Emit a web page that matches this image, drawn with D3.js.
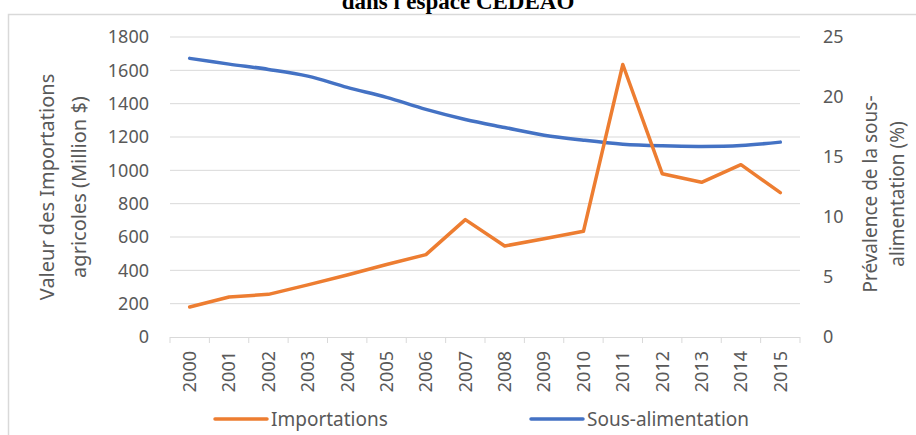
<!DOCTYPE html>
<html>
<head>
<meta charset="utf-8">
<script src="https://cdn.jsdelivr.net/npm/d3@7"></script>
<style>
  body { margin: 0; background: #fff; }
  text { font-family: "Noto Sans", sans-serif; fill: #595959; }
  .grid line { stroke: #d9d9d9; stroke-width: 1; }
</style>
</head>
<body>
<div id="chart"></div>
<script>
      var years = ["2000", "2001", "2002", "2003", "2004", "2005", "2006", "2007",
                   "2008", "2009", "2010", "2011", "2012", "2013", "2014", "2015"];
      var importations = [180, 240, 256, 313, 372, 435, 494, 704, 546, 590, 634, 1635, 980, 928, 1034, 866];
      var sousAlim = [23.22, 22.74, 22.3, 21.74, 20.8, 19.97, 18.97, 18.13,
                      17.46, 16.82, 16.4, 16.07, 15.93, 15.88, 15.96, 16.24];
      var leftTicks = [0, 200, 400, 600, 800, 1000, 1200, 1400, 1600, 1800];
      var rightTicks = [0, 5, 10, 15, 20, 25];

      var width = 916;
      var height = 435;
      var plot = { left: 170, right: 800, top: 37, bottom: 337 };

      var svg = d3.select('#chart').append('svg')
                  .attr('width', width)
                  .attr('height', height);

      // chart frame
      svg.append('rect')
         .attr('x', 8.5).attr('y', 14.5)
         .attr('width', width).attr('height', height)
         .attr('fill', 'none').attr('stroke', '#d9d9d9').attr('stroke-width', 1.5);

      // title (cut off at the top, as in the source)
      svg.append('text')
         .attr('x', 458).attr('y', 9)
         .attr('text-anchor', 'middle')
         .style('font-family', '"Liberation Serif", serif')
         .style('font-weight', 'bold')
         .style('font-size', '23px')
         .style('fill', '#000')
         .text("dans l'espace CEDEAO");

      var x = d3.scaleBand().domain(years).range([plot.left, plot.right]).padding(0);
      var yL = d3.scaleLinear().domain([0, 1800]).range([plot.bottom, plot.top]);
      var yR = d3.scaleLinear().domain([0, 25]).range([plot.bottom, plot.top]);

      // gridlines
      svg.append('g').attr('class', 'grid')
         .selectAll('line').data(leftTicks.slice(1)).enter().append('line')
         .attr('x1', plot.left).attr('x2', plot.right)
         .attr('y1', function(d){ return yL(d); })
         .attr('y2', function(d){ return yL(d); });

      // left axis labels
      var axisL = d3.axisLeft(yL).tickValues(leftTicks).tickFormat(d3.format('d'))
                    .tickSize(0).tickPadding(21);
      var gL = svg.append('g').attr('transform', 'translate(' + plot.left + ',0)').call(axisL);
      gL.select('.domain').remove();
      gL.selectAll('text').style('font-size', '18px');

      // right axis labels
      var axisR = d3.axisRight(yR).tickValues(rightTicks).tickSize(0).tickPadding(23);
      var gR = svg.append('g').attr('transform', 'translate(' + plot.right + ',0)').call(axisR);
      gR.select('.domain').remove();
      gR.selectAll('text').style('font-size', '18px');

      // x axis
      var xAxis = d3.axisBottom(x).tickSize(0);
      var gX = svg.append('g').attr('transform', 'translate(0,' + plot.bottom + ')').call(xAxis);
      gX.select('.domain').attr('stroke', '#d9d9d9')
        .attr('d', 'M' + plot.left + ',0.5H' + plot.right);
      gX.selectAll('text')
        .style('font-size', '18px')
        .attr('text-anchor', 'end')
        .attr('transform', 'rotate(-90)')
        .attr('x', -14).attr('y', 0).attr('dy', '0.35em');
      // tick marks on category boundaries
      var bounds = years.map(function(d){ return x(d); }).concat([plot.right]);
      svg.append('g').selectAll('line').data(bounds).enter().append('line')
         .attr('x1', function(d){ return d; }).attr('x2', function(d){ return d; })
         .attr('y1', plot.bottom).attr('y2', plot.bottom + 6)
         .attr('stroke', '#d9d9d9').attr('stroke-width', 1);

      var cx = function(d, i){ return x(years[i]) + x.bandwidth() / 2; };

      var lineImp = d3.line()
                      .x(cx)
                      .y(function(d){ return yL(d); });
      var lineSous = d3.line().curve(d3.curveCatmullRom.alpha(0))
                      .x(cx)
                      .y(function(d){ return yR(d); });

      svg.append('path').datum(sousAlim)
         .attr('d', lineSous)
         .attr('fill', 'none').attr('stroke', '#4472c4')
         .attr('stroke-width', 3.5).attr('stroke-linecap', 'round');
      svg.append('path').datum(importations)
         .attr('d', lineImp)
         .attr('fill', 'none').attr('stroke', '#ed7d31')
         .attr('stroke-width', 3.5).attr('stroke-linecap', 'round')
         .attr('stroke-linejoin', 'round');

      // axis titles
      var titleL = svg.append('text')
         .attr('transform', 'translate(54,187) rotate(-90)')
         .attr('text-anchor', 'middle')
         .style('font-size', '20px');
      titleL.append('tspan').attr('x', 0).attr('y', 0).text('Valeur des Importations');
      titleL.append('tspan').attr('x', 0).attr('y', 32).text('agricoles (Million $)');

      var titleR = svg.append('text')
         .attr('transform', 'translate(877,194) rotate(-90)')
         .attr('text-anchor', 'middle')
         .style('font-size', '19px');
      titleR.append('tspan').attr('x', 0).attr('y', 0).text('Prévalence de la sous-');
      titleR.append('tspan').attr('x', 0).attr('y', 27).text('alimentation (%)');

      // legend
      var legend = [
        { name: 'Importations', color: '#ed7d31', x: 215 },
        { name: 'Sous-alimentation', color: '#4472c4', x: 531 }
      ];
      var lg = svg.append('g').selectAll('g').data(legend).enter().append('g')
                  .attr('transform', function(d){ return 'translate(' + d.x + ',419)'; });
      lg.append('line')
        .attr('x1', 0).attr('x2', 52).attr('y1', 0).attr('y2', 0)
        .attr('stroke', function(d){ return d.color; })
        .attr('stroke-width', 3.5).attr('stroke-linecap', 'round');
      lg.append('text')
        .attr('x', 56).attr('y', 0).attr('dy', '0.35em')
        .style('font-size', '19px')
        .text(function(d){ return d.name; });
</script>
</body>
</html>
